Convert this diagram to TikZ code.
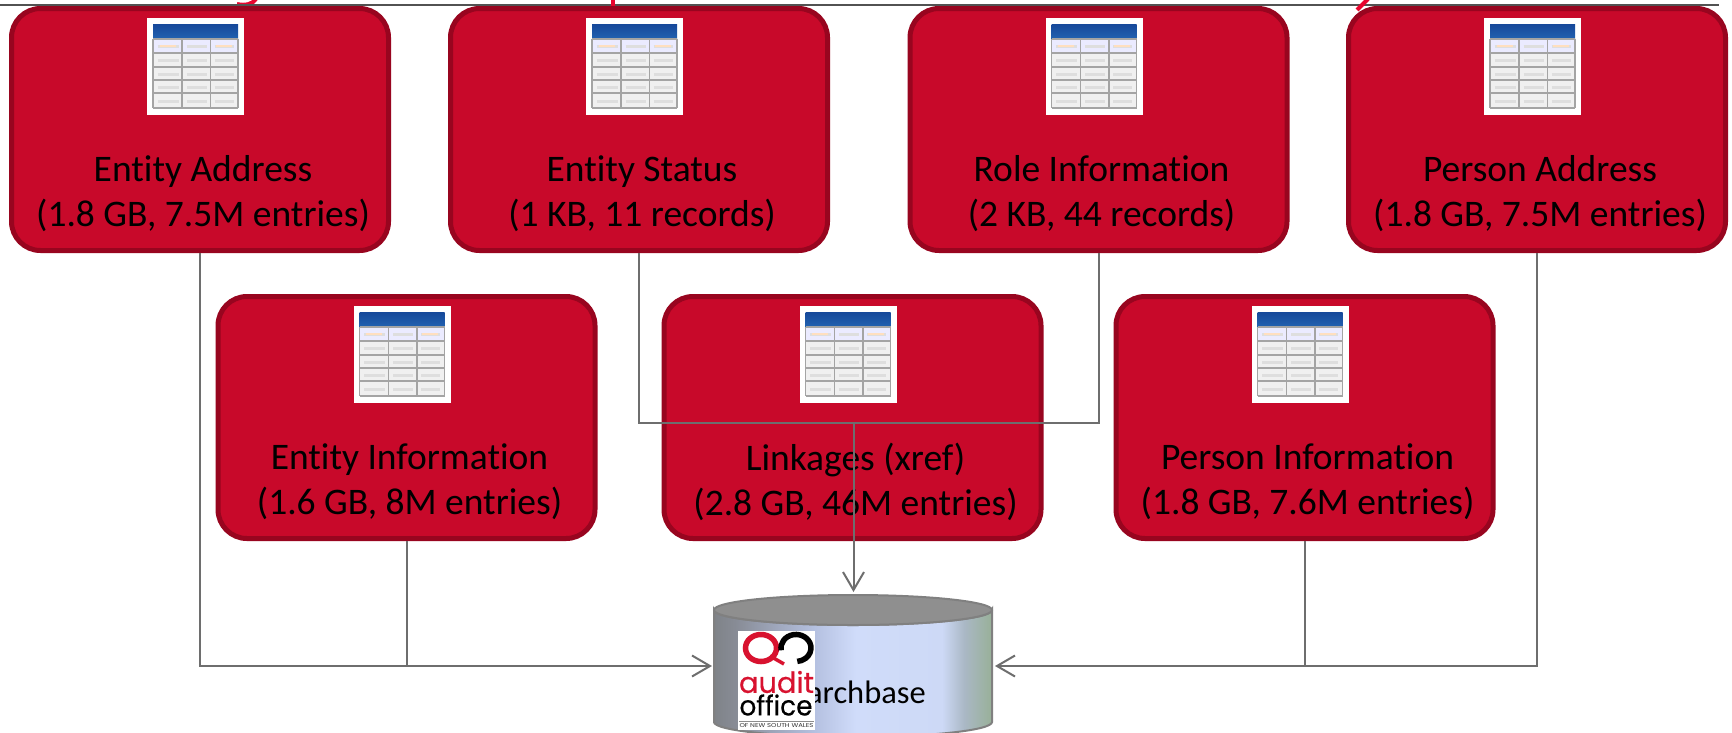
\documentclass[tikz,border=0pt]{standalone}
\usepackage{fontspec}
\usepackage{graphicx}
\setmainfont{Carlito}[Ligatures=NoCommon]
\newfontfamily\logofont{Poppins}
\newfontfamily\logobold{Poppins}[FakeBold=0.5]
\usetikzlibrary{arrows.meta,calc}
\definecolor{boxred}{HTML}{C8092A}
\definecolor{boxedge}{HTML}{98051F}
\definecolor{linkgray}{HTML}{6E6E6E}
\definecolor{titlered}{HTML}{E8052E}
\definecolor{hdrA}{HTML}{16489A}
\definecolor{hdrB}{HTML}{2262B0}
\definecolor{cellfill}{HTML}{F0F0F0}
\definecolor{cellline}{HTML}{A4A4A4}
\definecolor{cellmark}{HTML}{DEDEDE}
\definecolor{logored}{HTML}{D8122F}
\definecolor{cylA}{HTML}{7F8388}
\definecolor{cylB}{HTML}{888C96}
\definecolor{cylC}{HTML}{B4C0E0}
\definecolor{cylD}{HTML}{D0DCFA}
\definecolor{cylE}{HTML}{CDD9F6}
\definecolor{cylF}{HTML}{AAB8C5}
\definecolor{cylG}{HTML}{98B098}
\pgfdeclarehorizontalshading{cylbody}{100bp}{color(0bp)=(cylA); color(25bp)=(cylA); color(29bp)=(cylB); color(43bp)=(cylC); color(50.5bp)=(cylD); color(66bp)=(cylE); color(70bp)=(cylF); color(75bp)=(cylG); color(100bp)=(cylG)}
\tikzset{
  redbox/.style={draw=boxedge,fill=boxred,line width=5pt,rounded corners=29pt,minimum width=377pt,minimum height=242pt,inner sep=0pt},
  boxtext/.style={align=center,font=\fontsize{37.5}{45}\selectfont,text=black,inner sep=0pt},
  iconback/.style={fill=white,draw=none,minimum width=97pt,minimum height=97pt,inner sep=0pt,outer sep=0pt},
  link/.style={draw=linkgray,line width=2pt},
  linkarrow/.style={link,-{Straight Barb[length=18pt,width=21pt,line width=2pt]}},
  cellrule/.style={draw=cellline,line width=1.4pt},
  cellsmudge/.style={draw=cellmark,line width=3pt},
  titleink/.style={draw=titlered,line width=4pt},
}
% name, centre x, top y, first line, second line
\newcommand\tablebox[5]{%
  \node[redbox,anchor=north] (#1) at (#2,#3) {};
  \node[boxtext] (#1t) at (#2+3,#3+188) {#4\\#5};
  \node[iconback,anchor=north] (#1i) at (#2-4.5,#3+12) {};
  \begin{scope}[shift={(#2-4.5,#3+12)}]
    \fill[cellfill] (-42.5,6) rectangle (42.5,90);
    \shade[top color=hdrA,bottom color=hdrB] (-42.5,6) rectangle (42.5,21);
    \fill[blue!8] (-42.5,21) rectangle (42.5,35);
    \foreach \yy in {28,42,56,69,83}{
      \draw[cellsmudge] (-38,\yy) -- (-17,\yy);
      \draw[cellsmudge] (-9,\yy) -- (11,\yy);
      \draw[cellsmudge] (19,\yy) -- (38,\yy);
    }
    \draw[orange!25,line width=2pt] (-36,28) -- (-20,28) (20,28) -- (36,28);
    \foreach \yy in {21,35,49,62,75,90} \draw[cellrule] (-42.5,\yy) -- (42.5,\yy);
    \foreach \xx in {-42.5,-13.5,15,42.5} \draw[cellrule] (\xx,21) -- (\xx,90);
  \end{scope}
}
\begin{document}
\begin{tikzpicture}[x=1pt,y=-1pt]
\useasboundingbox (0,0) rectangle (1732,732);
\fill[white] (0,0) rectangle (1732,732);
% clipped title remnants
\draw[titleink] (237,4) .. controls (245,6) and (253,4) .. (256,-1);
\draw[draw=black!68,line width=2pt] (0,4.5) -- (1719,4.5);
\draw[titleink] (1357,10) -- (1368,-1);
\draw[titleink] (612.5,-1) -- (612.5,6);

\tablebox{ea}{200}{6}{Entity Address}{(1.8 GB, 7.5M entries)}
\tablebox{es}{639}{6}{Entity Status}{(1 KB, 11 records)}
\tablebox{ri}{1098.5}{6}{Role Information}{(2 KB, 44 records)}
\tablebox{pa}{1537}{6}{Person Address}{(1.8 GB, 7.5M entries)}
\tablebox{ei}{406.5}{294}{Entity Information}{(1.6 GB, 8M entries)}
\tablebox{lk}{852.5}{294}{Linkages (xref)}{(2.8 GB, 46M entries)}
\tablebox{pi}{1304.5}{294}{Person Information}{(1.8 GB, 7.6M entries)}

% database
\node[minimum width=283pt,minimum height=148pt,inner sep=0pt,outer sep=0pt] (db) at (853.5,666) {};
\draw[shading=cylbody,draw=black!50,line width=2pt] (714,610) -- (714,722) arc[start angle=180,end angle=0,x radius=139,y radius=15] -- (992,610) arc[start angle=0,end angle=180,x radius=139,y radius=15] -- cycle;
\draw[fill=black!44,draw=black!50,line width=2pt] (853,610) ellipse[x radius=139,y radius=15];
\node[anchor=base east,font=\fontsize{32.5}{40}\selectfont,inner sep=0pt] (dbt) at (926,703) {archbase};

% logo
\node[fill=white,minimum width=77pt,minimum height=99pt,inner sep=0pt,outer sep=0pt,anchor=north west] (logo) at (738,631) {};
\draw[logored,line width=5.5pt] (761,648) ellipse[x radius=15.5,y radius=13.5];
\draw[logored,line width=3.5pt] (770,656) -- (784,664);
\draw[black,line width=5.5pt] (781.2,650.3) arc[start angle=170,end angle=445,x radius=15,y radius=13.5];
\node[inner sep=0pt,text=logored] (logoa) at (776.5,682) {\resizebox{75pt}{22pt}{\logobold audit}};
\node[inner sep=0pt,text=black] (logob) at (776,705) {\resizebox{73pt}{21pt}{\logobold office}};
\draw[black!45,line width=1pt] (739,721) -- (814,721);
\node[inner sep=0pt,text=black!80] (logoc) at (776.5,726) {\resizebox{74pt}{4pt}{\logofont OF NEW SOUTH WALES}};

% connectors
\coordinate (jn) at (853.5,423);
\draw[link] (es.south) |- (jn);
\draw[link] (ri.south) |- (jn);
\draw[linkarrow] (jn) -- (db.north);
\draw[linkarrow] (ea.south) |- (db.west);
\draw[link] (ei.south) -- (ei.south |- db.west);
\draw[linkarrow] (pa.south) |- (db.east);
\draw[link] (pi.south) -- (pi.south |- db.east);
\end{tikzpicture}
\end{document}
